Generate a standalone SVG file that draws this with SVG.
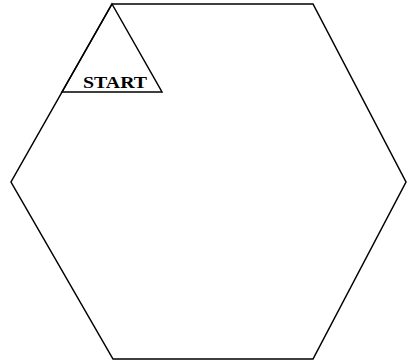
<svg xmlns="http://www.w3.org/2000/svg" width="408" height="364" viewBox="0 0 408 364">
<style>
.s{fill:none;stroke:#000;stroke-width:1.5;stroke-linejoin:miter}
.t{font-family:"Liberation Serif","Times New Roman",serif;font-weight:bold;font-size:16px;fill:#000}
</style>
<rect width="408" height="364" fill="#fff"/>
<g id="hexagon"><polygon class="s" points="112,4 313,4 406,182 313,359 113,359 11,182"/></g>
<g id="start"><polygon class="s" points="112,4 162,92 62,92"/><text class="t" x="83" y="88" textLength="64" lengthAdjust="spacingAndGlyphs">START</text></g>
</svg>
